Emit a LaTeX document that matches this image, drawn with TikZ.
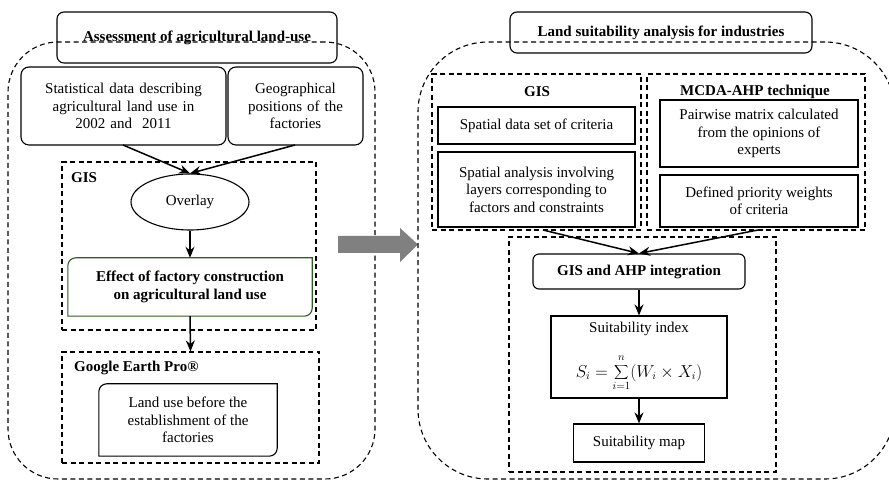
\documentclass[tikz,border=0pt]{standalone}
\usepackage{fontspec}
\setmainfont{Liberation Serif}
\usetikzlibrary{arrows.meta,shapes.geometric}
\definecolor{effgreen}{HTML}{2E5E1E}
\definecolor{bigarrow}{HTML}{808080}
\tikzset{
  base/.style={font=\fontsize{15}{17.5}\selectfont, inner sep=0pt, align=center},
  boldf/.style={font=\fontsize{15}{17.5}\selectfont\bfseries},
  outer/.style={base, draw, dash pattern=on 5pt off 3.5pt, line width=1.1pt},
  group/.style={base, draw, dash pattern=on 5pt off 3.5pt, line width=1.1pt},
  rbox/.style={base, draw, line width=1.1pt, rounded corners=8pt},
  sbox/.style={base, draw, line width=1.1pt},
  plain/.style={base},
  lbl/.style={base, boldf},
  conn/.style={line width=1.5pt, -{Stealth[length=11pt,width=9pt]}},
}
\begin{document}
\begin{tikzpicture}[x=1pt,y=1pt]
\useasboundingbox (0,0) rectangle (889,481);
% ---------- left panel ----------
\node[outer, rounded corners=50pt, minimum width=367pt, minimum height=437pt] (Lout) at (191.5,220.5) {};
\node[rbox, rounded corners=7pt, minimum width=280pt, minimum height=51pt, boldf] (Ltitle) at (197,443.5) {Assessment of agricultural land-use};
\node[rbox, minimum width=205pt, minimum height=78pt, text width=200pt] (stat) at (123.5,375) {Statistical data describing\\agricultural land use in\\2002 and\ \ 2011};
\node[rbox, minimum width=135pt, minimum height=78pt, text width=130pt] (geo) at (295.5,375) {Geographical\\positions of the\\factories};
\node[group, minimum width=254pt, minimum height=168pt] (Lgis) at (189,235) {};
\node[lbl, anchor=west] (Lgislbl) at (71,303) {GIS};
\node[base, draw, ellipse, line width=1.1pt, minimum width=118pt, minimum height=56pt] (ov) at (190,279) {Overlay};
\node[plain, minimum width=244pt, minimum height=58pt, boldf] (eff) at (190,194) {Effect of factory construction\\on agricultural land use};
\draw[effgreen, line width=1.1pt] ([yshift=-8pt]eff.north west) arc[start angle=180,end angle=90,radius=8pt] -- (eff.north east) -- ([yshift=8pt]eff.south east) arc[start angle=0,end angle=-90,radius=8pt] -- (eff.south west) -- cycle;
\node[group, minimum width=257pt, minimum height=111pt] (gep) at (190.5,73.5) {};
\node[lbl, anchor=west] (geplbl) at (74,113) {Google Earth Pro\textregistered};
\node[plain, minimum width=178pt, minimum height=72pt] (lu) at (188,61) {Land use before the\\establishment of the\\factories};
\draw[line width=1.1pt] ([yshift=-8pt]lu.north west) arc[start angle=180,end angle=90,radius=8pt] -- (lu.north east) -- ([yshift=8pt]lu.south east) arc[start angle=0,end angle=-90,radius=8pt] -- (lu.south west) -- cycle;
\coordinate (statout) at (123,336);
\coordinate (geoout) at (295,336);
\draw[conn] (statout) -- (ov.north);
\draw[conn] (geoout) -- (ov.north);
\draw[conn] (ov.south) -- (eff.north);
\draw[conn] (eff.south) -- (gep.north);
% ---------- big arrow ----------
\fill[bigarrow] (338,228) -- (400,228) -- (400,219) -- (418,236.5) -- (400,253) -- (400,245) -- (338,245) -- cycle;
% ---------- right panel ----------
\node[outer, rounded corners=70pt, minimum width=477pt, minimum height=437pt] (Rout) at (656.5,220.5) {};
\node[rbox, rounded corners=7pt, minimum width=302pt, minimum height=41pt, boldf] (Rtitle) at (661,448.5) {Land suitability analysis for industries};
\node[group, minimum width=209pt, minimum height=156pt] (Rgis) at (536.5,329) {};
\node[lbl] (Rgislbl) at (537,389) {GIS};
\node[group, minimum width=218pt, minimum height=156pt] (mcda) at (756,329) {};
\node[lbl] (mcdalbl) at (755,389) {MCDA-AHP technique};
\node[sbox, minimum width=197pt, minimum height=37pt] (sds) at (536.5,355.5) {Spatial data set of criteria};
\node[sbox, minimum width=197pt, minimum height=75pt] (sa) at (536.5,291.5) {Spatial analysis involving\\layers corresponding to\\factors and constraints};
\node[sbox, minimum width=198pt, minimum height=67pt] (pw) at (759,347.5) {Pairwise matrix calculated\\from the opinions of\\experts};
\node[sbox, minimum width=198pt, minimum height=52pt] (dp) at (759,280) {Defined priority weights\\of criteria};
\node[group, minimum width=267pt, minimum height=235pt] (bot) at (642.5,126.5) {};
\node[rbox, rounded corners=6pt, minimum width=212pt, minimum height=35pt, boldf] (integ) at (639,209.5) {GIS and AHP integration};
\node[sbox, minimum width=176pt, minimum height=82pt] (si) at (639,124) {};
\node[plain] (sitxt) at (639,152) {Suitability index};
\node[plain, font=\fontsize{16}{18}\selectfont] (siform) at (639,108) {$\displaystyle S_i=\sum_{\lower2pt\hbox{$\scriptstyle i=1$}}^{\raise2pt\hbox{$\scriptstyle n$}}(W_i\times X_i)$};
\node[sbox, minimum width=131pt, minimum height=38pt] (map) at (639,38) {Suitability map};
\coordinate (gisout) at (543,251);
\coordinate (mcdaout) at (758,251);
\draw[conn] (gisout) -- (integ.north);
\draw[conn] (mcdaout) -- (integ.north);
\draw[conn] (integ.south) -- (si.north);
\draw[conn] (si.south) -- (map.north);
\end{tikzpicture}
\end{document}
